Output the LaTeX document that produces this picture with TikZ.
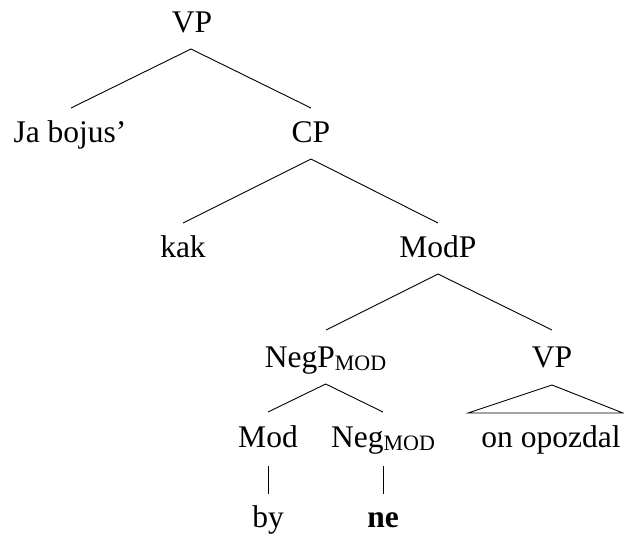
\documentclass[tikz,border=0pt]{standalone}
\usepackage{fontspec}
\setmainfont{Liberation Serif}
\usetikzlibrary{calc}
\newcommand{\subMOD}{\raisebox{-3.5pt}{\fontsize{22}{22}\selectfont MOD}}
\tikzset{
  lbl/.style={inner sep=0pt, outer sep=0pt, anchor=base, font=\fontsize{31.5}{38}\selectfont},
  edge/.style={line width=0.9pt, black}
}
\begin{document}
\begin{tikzpicture}[x=1pt,y=-1pt]
\useasboundingbox (0,0) rectangle (624,536);
\node[lbl] (vp0) at (192,32) {VP};
\node[lbl] (ja) at (70,142) {Ja bojus’};
\node[lbl] (cp) at (311,142) {CP};
\node[lbl] (kak) at (183,257) {kak};
\node[lbl] (modp) at (438,257) {ModP};
\node[lbl] (negp) at (325.5,367) {NegP\subMOD};
\node[lbl] (vp2) at (552,367) {VP};
\node[lbl] (mod) at (268,447) {Mod};
\node[lbl] (neg) at (383,447) {Neg\subMOD};
\node[lbl] (onop) at (551,447) {on opozdal};
\node[lbl] (by) at (268,527) {by};
\node[lbl] (ne) at (383,527) {\textbf{ne}};

\draw[edge] ($(ja.base)+(1,-34)$) -- ($(vp0.base)+(-1,17)$) -- ($(cp.base)+(0,-34)$);
\draw[edge] ($(kak.base)+(0,-34)$) -- ($(cp.base)+(0,17)$) -- ($(modp.base)+(0,-34)$);
\draw[edge] ($(negp.base)+(0.5,-37)$) -- ($(modp.base)+(0,17)$) -- ($(vp2.base)+(0,-37)$);
\draw[edge] ($(mod.base)+(0,-35)$) -- ($(negp.base)+(0.2,17)$) -- ($(neg.base)+(0,-35)$);
\draw[edge] ($(onop.base)+(-83,-34)$) -- ($(vp2.base)+(0,18)$) -- ($(onop.base)+(72,-34)$) -- cycle;
\draw[edge] ($(mod.base)+(0,19)$) -- ($(by.base)+(0,-33)$);
\draw[edge] ($(neg.base)+(0,19)$) -- ($(ne.base)+(0,-33)$);
\end{tikzpicture}
\end{document}
